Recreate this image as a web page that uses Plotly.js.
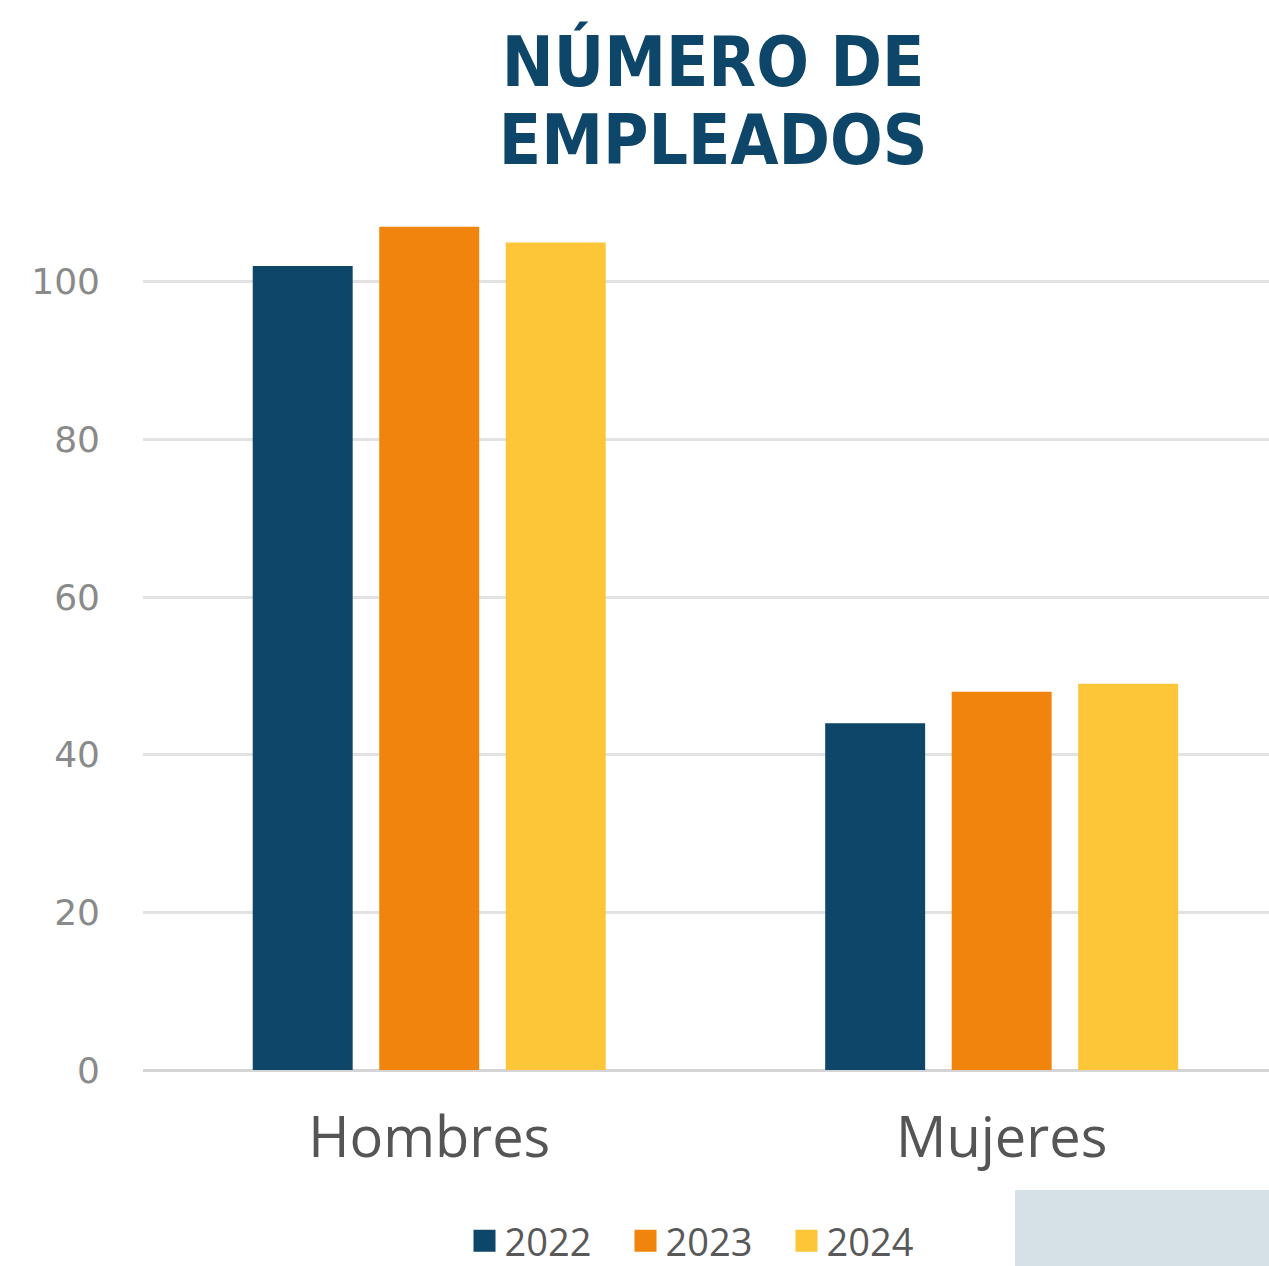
<!DOCTYPE html>
<html><head><meta charset="utf-8">
<script src="https://cdn.plot.ly/plotly-3.0.1.min.js"></script>
<style>html,body{margin:0;padding:0;background:#fff;}#chart{width:1269px;height:1266px;}</style>
</head><body><div id="chart"></div>
<script>
const categories = ["Hombres", "Mujeres"];
const years = ["2022", "2023", "2024"];
const values2022 = [102, 44];
const values2023 = [107, 48];
const values2024 = [105, 49];
const yTicks = [0, 20, 40, 60, 80, 100];
const colors = ["#0d4669", "#f0840c", "#fdc538"];
const seriesValues = [values2022, values2023, values2024];

const traces = years.map((y, i) => ({
  type: "bar",
  name: y,
  x: categories,
  y: seriesValues[i],
  marker: {color: colors[i]},
  hoverinfo: "none"
}));

const layout = {
  width: 1269, height: 1266,
  margin: {l: 143, r: 0, t: 203, b: 196},
  paper_bgcolor: "#ffffff", plot_bgcolor: "#ffffff",
  barmode: "group", bargap: 0.337, bargroupgap: 0.21,
  title: {
    text: "NÚMERO DE<br>EMPLEADOS",
    font: {family: "DejaVu Sans Condensed", size: 69, color: "#0d4669", weight: "bold"},
    x: 0.562, xref: "container", xanchor: "center",
    y: 0.9317, yref: "container", yanchor: "top"
  },
  xaxis: {
    range: [-0.5, 1.467], automargin: false,
    tickfont: {family: "Open Sans", size: 56, color: "#555555"},
    ticklabelstandoff: 30,
    ticks: "", showline: false, showgrid: false, zeroline: false
  },
  yaxis: {
    range: [0, 110], automargin: false,
    tickvals: yTicks, ticktext: yTicks.map(String),
    tickfont: {family: "DejaVu Sans", size: 36, color: "#8a8a8a"},
    ticklabelstandoff: 42,
    showgrid: true, gridcolor: "#e2e2e2", gridwidth: 3,
    zeroline: true, zerolinecolor: "#d4d4d4", zerolinewidth: 3,
    showline: false, ticks: ""
  },
  showlegend: true,
  legend: {
    orientation: "h", x: 0.5, xanchor: "center",
    yref: "container", y: 0.0197, yanchor: "middle",
    font: {family: "Open Sans", size: 38, color: "#595959"},
    itemwidth: 30, entrywidth: 116, traceorder: "normal"
  },
  shapes: [{
    type: "rect", xref: "paper", yref: "paper",
    x0: (1015 - 143) / 1126, x1: 1, y0: -(1266 - 1070) / 867, y1: -(1190 - 1070) / 867,
    fillcolor: "#d6e1e7", line: {width: 0}, layer: "below"
  }]
};

Plotly.newPlot("chart", traces, layout, {displayModeBar: false, staticPlot: true}).then(gd => {
  // tighter line spacing for the two-line title
  gd.querySelectorAll(".gtitle tspan.line").forEach((t, i) => { if (i > 0) t.setAttribute("dy", "1.12em"); });
  // larger square legend swatches
  gd.querySelectorAll(".legendpoints path").forEach(p => p.setAttribute("d", "M11,11H-11V-11H11Z"));
});
</script></body></html>
